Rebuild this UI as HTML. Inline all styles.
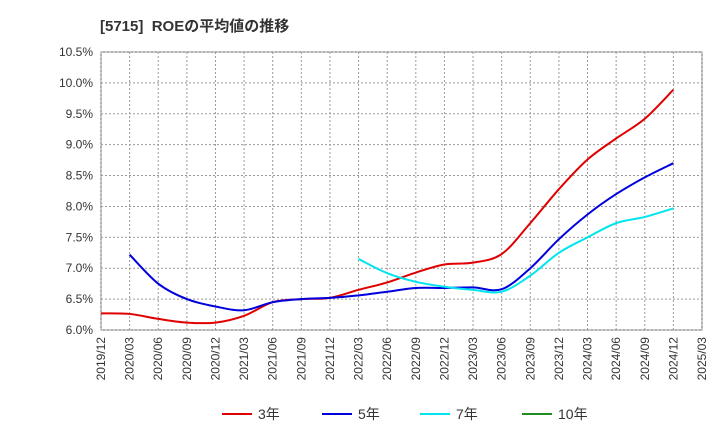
<!DOCTYPE html>
<html><head><meta charset="utf-8"><style>
body{margin:0;background:#fff;font-family:"Liberation Sans","Noto Sans CJK JP",sans-serif;}
</style></head><body>
<svg id="c" width="720" height="440" xmlns="http://www.w3.org/2000/svg">
<text x="100" y="31" font-size="15" font-weight="bold" fill="#333">[5715]&#160; ROEの平均値の推移</text>
<rect x="101" y="52" width="601" height="278" fill="#fff" stroke="#666"/>
<g id="grid"></g><g id="axes"></g><g id="series"></g><g id="legend"></g>
</svg>
<script>
const xLabels=["2019/12","2020/03","2020/06","2020/09","2020/12","2021/03","2021/06","2021/09","2021/12","2022/03","2022/06","2022/09","2022/12","2023/03","2023/06","2023/09","2023/12","2024/03","2024/06","2024/09","2024/12","2025/03"];
const yTicks=[6.0,6.5,7.0,7.5,8.0,8.5,9.0,9.5,10.0,10.5];
const s3=[6.27,6.26,6.18,6.12,6.12,6.23,6.45,6.5,6.52,6.65,6.77,6.93,7.06,7.09,7.23,7.73,8.28,8.76,9.1,9.42,9.89];
const s5=[null,7.22,6.75,6.5,6.38,6.32,6.45,6.5,6.52,6.56,6.62,6.68,6.68,6.69,6.66,7.0,7.47,7.87,8.2,8.47,8.7];
const s7=[null,null,null,null,null,null,null,null,null,7.15,6.92,6.78,6.7,6.65,6.62,6.88,7.25,7.5,7.73,7.83,7.97];
const s10=[];
const ns="http://www.w3.org/2000/svg";
const X=i=>101+i*(601/21), Y=v=>330-(v-6.0)*(278/4.5);
function mk(t,a,p){const e=document.createElementNS(ns,t);for(const k in a)e.setAttribute(k,a[k]);p.appendChild(e);return e;}
const g=document.getElementById('grid'),ax=document.getElementById('axes'),se=document.getElementById('series'),lg=document.getElementById('legend');
yTicks.forEach(v=>{const l=mk('line',{x1:101,x2:702,y1:Y(v),y2:Y(v),stroke:'#999','stroke-dasharray':'2,2'},g);

const t=mk('text',{x:93,y:Y(v)+4,'font-size':12,'text-anchor':'end',fill:'#333'},ax);t.textContent=v.toFixed(1)+'%';
});
xLabels.forEach((s,i)=>{const l=mk('line',{x1:X(i),x2:X(i),y1:52,y2:330,stroke:'#999','stroke-dasharray':'2,2'},g);

const t=mk('text',{x:0,y:0,'font-size':12,'text-anchor':'end',fill:'#333',transform:`translate(${X(i)+4},337) rotate(-90)`},ax);t.textContent=s;
});
function path(arr){const pts=[];arr.forEach((v,i)=>{if(v!=null)pts.push([X(i),Y(v)]);});if(!pts.length)return'';
let d=`M${pts[0][0]},${pts[0][1]}`;for(let i=0;i<pts.length-1;i++){const p0=pts[i-1]||pts[i],p1=pts[i],p2=pts[i+1],p3=pts[i+2]||p2;
d+=` C${p1[0]+(p2[0]-p0[0])/6},${p1[1]+(p2[1]-p0[1])/6} ${p2[0]-(p3[0]-p1[0])/6},${p2[1]-(p3[1]-p1[1])/6} ${p2[0]},${p2[1]}`;}return d;}
const series=[[s3,'#e00000','3年','series-3y'],[s5,'#0000dd','5年','series-5y'],[s7,'#00e5ee','7年','series-7y'],[s10,'#228b22','10年','series-10y']];
series.forEach(([a,c,n,id])=>{const d=path(a);if(d){const p=mk('path',{d:d,fill:'none',stroke:c,'stroke-width':2},se);
}});
const lx=[222,322,420,522];
series.forEach(([a,c,n,id],i)=>{const l=mk('line',{x1:lx[i],x2:lx[i]+30,y1:414,y2:414,stroke:c,'stroke-width':2},lg);

const t=mk('text',{x:lx[i]+36,y:419,'font-size':14,fill:'#333'},lg);t.textContent=n;
});
</script>
</body></html>
